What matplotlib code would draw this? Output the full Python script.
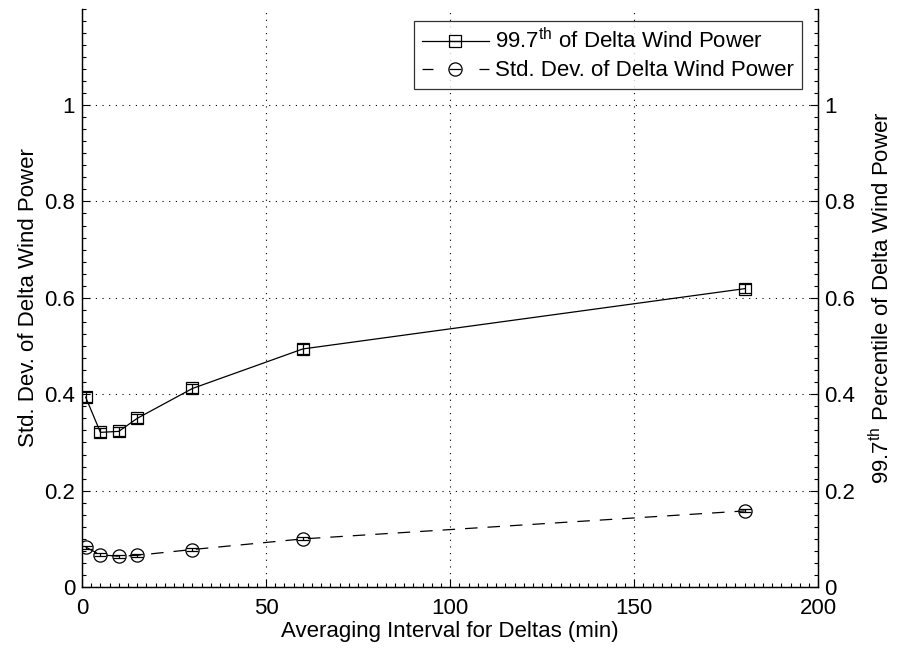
import matplotlib
matplotlib.use('Agg')

from matplotlib import pyplot as plt
from matplotlib.ticker import MultipleLocator
from matplotlib.lines import Line2D

plt.rcParams['font.family'] = ['Liberation Sans', 'DejaVu Sans']
plt.rcParams['mathtext.fontset'] = 'custom'
plt.rcParams['mathtext.rm'] = 'Liberation Sans'
plt.rcParams['mathtext.it'] = 'Liberation Sans'

# averaging interval (min)
intervals = [1, 5, 10, 15, 30, 60, 180]
# 99.7th percentile of delta wind power
pct997 = [0.394, 0.321, 0.323, 0.350, 0.412, 0.494, 0.619]
pct997_err = [0.010, 0.010, 0.010, 0.010, 0.010, 0.010, 0.010]
# std. dev. of delta wind power
std_dev = [0.083, 0.067, 0.064, 0.066, 0.078, 0.100, 0.158]
std_err = [0.003, 0.003, 0.003, 0.003, 0.003, 0.003, 0.003]

fig = plt.figure(figsize=(8.99, 6.56), dpi=100)
ax = fig.add_axes([0.0912, 0.105, 0.819, 0.882])
ax2 = ax.twinx()

ax.errorbar(intervals, pct997, yerr=pct997_err, color='black', linestyle='-', linewidth=0.9,
            marker='s', markersize=9, markerfacecolor='none', markeredgewidth=0.9,
            capsize=4, elinewidth=0.9, capthick=0.9)
ax.errorbar(intervals, std_dev, yerr=std_err, color='black', linestyle=(0, (10, 8)), linewidth=0.9,
            marker='o', markersize=9.5, markerfacecolor='none', markeredgewidth=0.9,
            capsize=4.5, elinewidth=0.9, capthick=0.9)

for a in (ax, ax2):
    a.set_ylim(0, 1.2)
    a.set_yticks([0, 0.2, 0.4, 0.6, 0.8, 1])
    a.set_yticklabels(['0', '0.2', '0.4', '0.6', '0.8', '1'])
    a.yaxis.set_minor_locator(MultipleLocator(0.025))
    a.spines['top'].set_visible(False)
    for s in a.spines.values():
        s.set_linewidth(0.9)
    a.tick_params(which='both', direction='in', labelsize=16, width=0.8)
    a.tick_params(which='major', length=6)
    a.tick_params(which='minor', length=3)

ax.set_xlim(0, 200)
ax.set_xticks([0, 50, 100, 150, 200])
ax.xaxis.set_minor_locator(MultipleLocator(2.5))
ax.tick_params(axis='x', pad=8)
ax.tick_params(axis='y', pad=5)
ax2.tick_params(axis='y', pad=4)

ax.grid(True, which='major', linestyle=(0, (1, 5)), color='black', linewidth=0.8)

ax.set_xlabel('Averaging Interval for Deltas (min)', fontsize=16, labelpad=1)
ax.set_ylabel('Std. Dev. of Delta Wind Power', fontsize=16, labelpad=4)
ax2.set_ylabel(r'99.7$^{\rm th}$ Percentile of Delta Wind Power', fontsize=16, labelpad=10)

# legend handles: line + marker, with a small bar through the marker like the error caps
bar = dict(color='black', linestyle='none', marker='_', markeredgewidth=0.9)
handles = [
    (Line2D([], [], color='black', linestyle='-', linewidth=0.9, marker='s', markersize=9,
            markerfacecolor='none', markeredgewidth=0.9),
     Line2D([], [], markersize=8, **bar)),
    (Line2D([], [], color='black', linestyle=(0, (8.8, 36.8)), linewidth=0.9, marker='o',
            markersize=9.5, markerfacecolor='none', markeredgewidth=0.9),
     Line2D([], [], markersize=9, **bar)),
]
leg = ax.legend(handles, [r'99.7$^{\rm th}$ of Delta Wind Power', 'Std. Dev. of Delta Wind Power'],
                loc='upper right', bbox_to_anchor=(0.978, 0.979), fontsize=16, frameon=True,
                fancybox=False, handlelength=3.0, borderpad=0.35, labelspacing=0.3,
                handletextpad=0.3, borderaxespad=0.0)
leg.get_frame().set_edgecolor('black')
leg.get_frame().set_linewidth(0.9)

plt.savefig('out.png', dpi=100)
